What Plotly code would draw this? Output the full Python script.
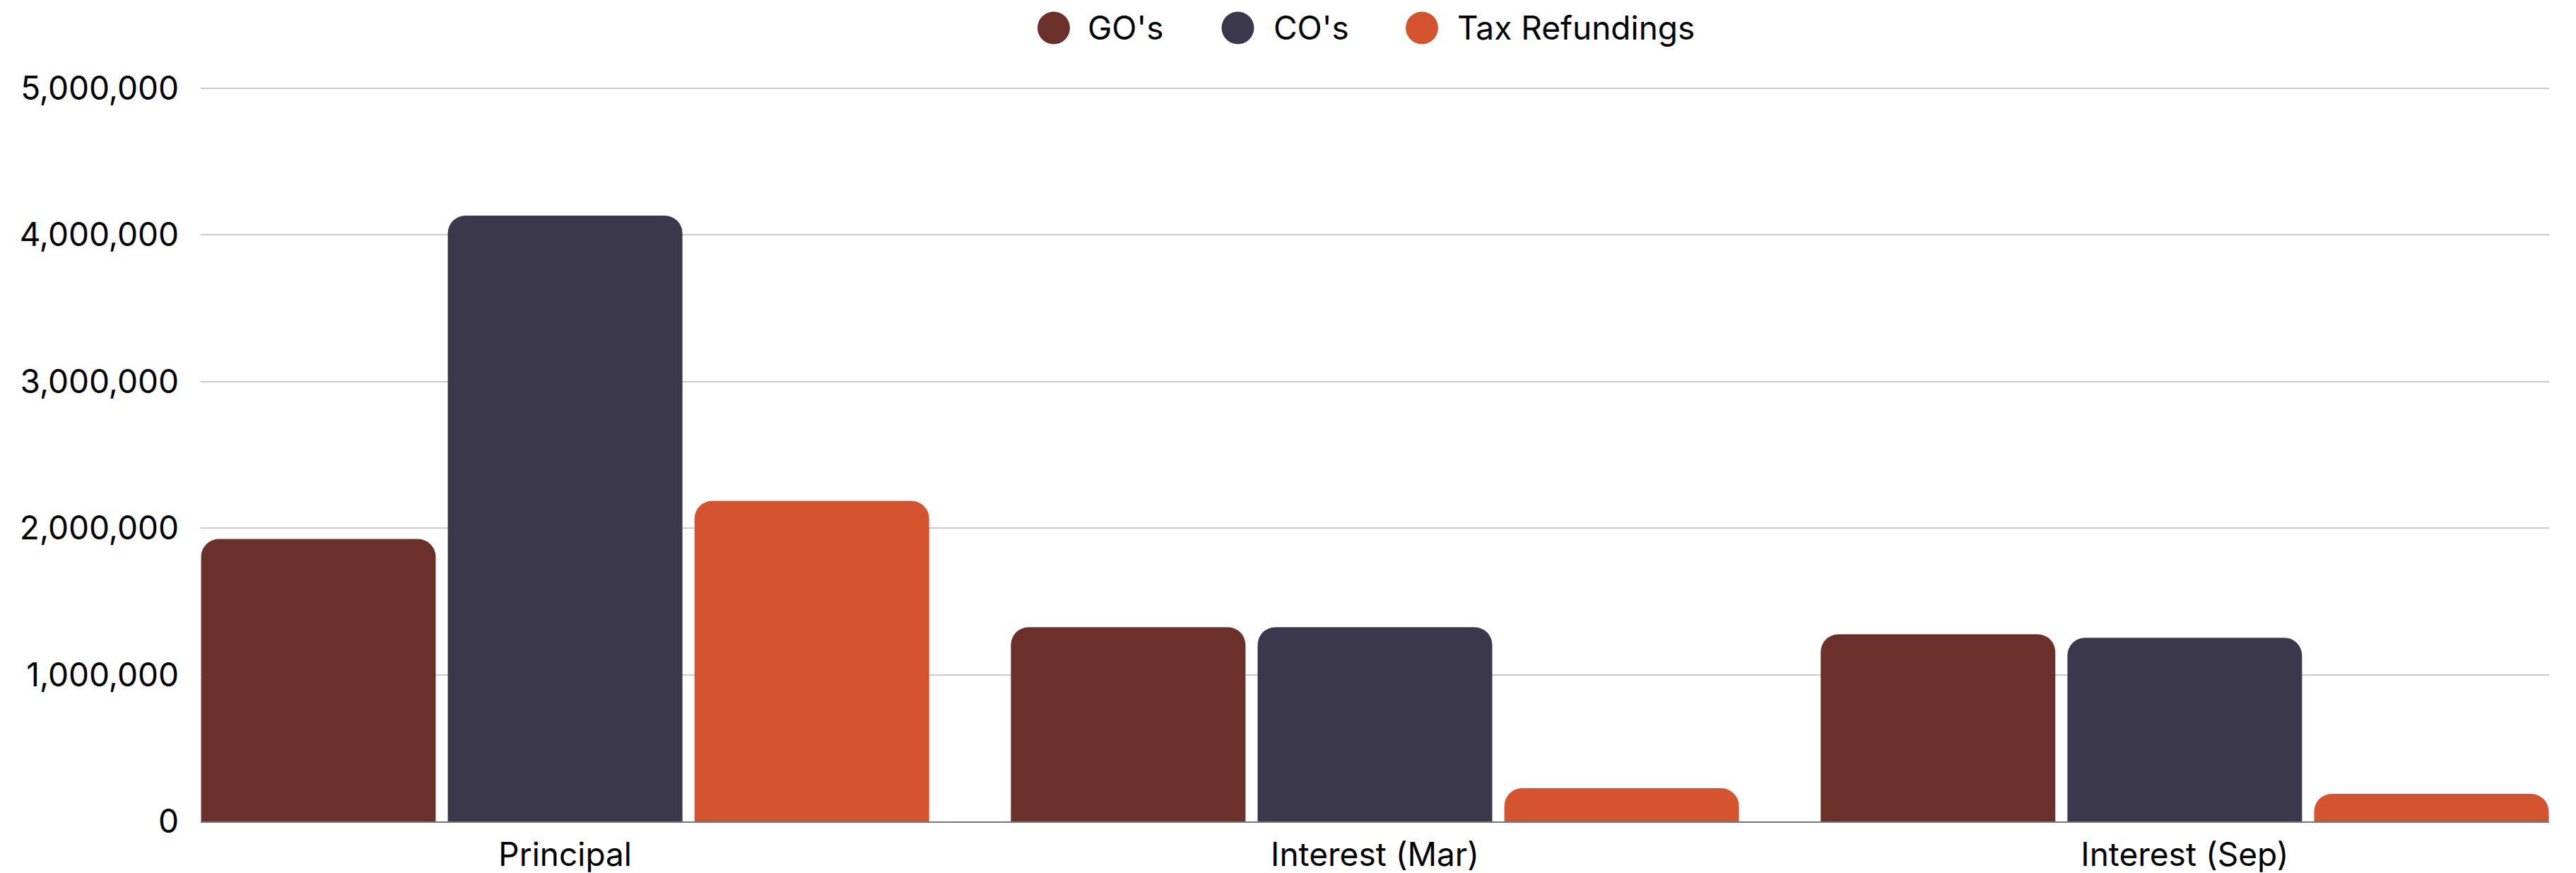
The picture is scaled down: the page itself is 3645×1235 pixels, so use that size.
import plotly.graph_objects as go

categories = ["Principal", "Interest (Mar)", "Interest (Sep)"]
series_names = ["GO's", "CO's", "Tax Refundings"]
go_values = [1925000, 1324000, 1276000]
co_values = [4130000, 1324000, 1252000]
tax_values = [2185000, 226000, 188000]
colors = ["#6C302B", "#3B374D", "#D45430"]
y_tick_values = [0, 1000000, 2000000, 3000000, 4000000, 5000000]
y_tick_labels = ["0", "1,000,000", "2,000,000", "3,000,000", "4,000,000", "5,000,000"]

W, H = 3645, 1235
ML, MR, MT, MB = 284, 38, 114, 73
FONT = "Inter"
PX_PER_UNIT = 207.5 / 1000000  # vertical pixels per value unit
y_top = (H - MB - MT) / PX_PER_UNIT

fig = go.Figure()
for name, vals, col in zip(series_names, [go_values, co_values, tax_values], colors):
    fig.add_trace(go.Bar(
        x=categories, y=vals, name=name,
        marker=dict(color=col, cornerradius=25, line=dict(width=0)),
        showlegend=False,
    ))

fig.update_layout(
    width=W, height=H,
    margin=dict(l=ML, r=MR, t=MT, b=MB, autoexpand=False),
    paper_bgcolor="white", plot_bgcolor="white",
    barmode="group", bargap=0.086, bargroupgap=0.049,
    font=dict(family=FONT, size=46, color="#000000"),
)
fig.update_xaxes(
    range=[-0.45, 2.45], showgrid=False, showline=True, linecolor="#777777", linewidth=2,
    automargin=False,
    ticks="", ticklabelstandoff=6, tickfont=dict(family=FONT, size=46, color="#000000"),
)
fig.update_yaxes(
    range=[0, y_top], tickvals=y_tick_values, ticktext=y_tick_labels,
    automargin=False,
    showgrid=True, gridcolor="#CACACA", gridwidth=2, zeroline=False, showline=False,
    ticks="", ticklabelstandoff=30, tickfont=dict(family=FONT, size=46, color="#000000"),
)

# custom legend (circle symbols) above the plot
plot_w = W - ML - MR
plot_h = H - MT - MB
legend_y_px = 39.5
circle_x_px = [1491, 1751.5, 2012]
text_x_px = [1537, 1800, 2060]
yf = (H - MB - legend_y_px) / plot_h
for name, col, cx, tx in zip(series_names, colors, circle_x_px, text_x_px):
    xf = (cx - ML) / plot_w
    fig.add_shape(type="circle", xref="paper", yref="paper", xsizemode="pixel", ysizemode="pixel",
                  xanchor=xf, yanchor=yf, x0=-23, x1=23, y0=-23, y1=23,
                  fillcolor=col, line=dict(width=0))
    fig.add_annotation(xref="paper", yref="paper", x=(tx - ML) / plot_w, y=yf,
                       xanchor="left", yanchor="middle", text=name, showarrow=False,
                       font=dict(family=FONT, size=46, color="#000000"))

fig.write_html("out.html", config={"displayModeBar": False},
               post_script="document.body.style.margin='0';")
